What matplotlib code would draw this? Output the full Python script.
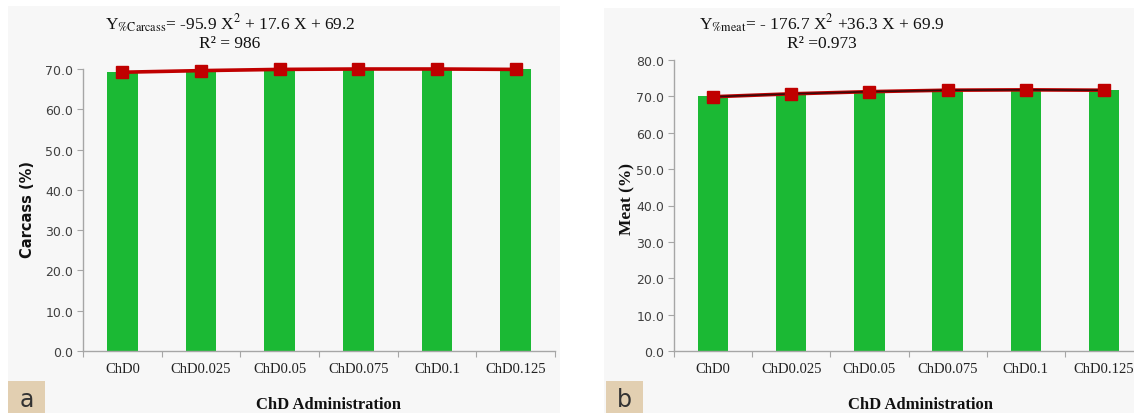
import matplotlib
matplotlib.use("Agg")
import matplotlib.pyplot as plt
from matplotlib.patches import Rectangle

categories = ["ChD0", "ChD0.025", "ChD0.05", "ChD0.075", "ChD0.1", "ChD0.125"]
carcass_bars = [69.2, 69.6, 69.9, 70.0, 70.0, 69.9]
carcass_points = [69.2, 69.6, 69.9, 70.0, 70.0, 69.9]
meat_bars = [70.0, 70.7, 71.3, 71.7, 71.8, 71.7]
meat_points = [69.9, 70.7, 71.3, 71.7, 71.8, 71.7]
carcass_yticks = [0, 10, 20, 30, 40, 50, 60, 70]
meat_yticks = [0, 10, 20, 30, 40, 50, 60, 70, 80]

plt.rcParams['mathtext.fontset'] = 'stix'
W, H = 1134, 414
fig = plt.figure(figsize=(W/100, H/100), dpi=100)
fig.patch.set_facecolor('white')

BG = '#f7f7f7'
GREEN = '#1bb934'
RED = '#c00000'
AX = '#a6a6a6'
serif = 'Liberation Serif'

# panel backgrounds
fig.add_artist(Rectangle((8/W, 0), (560-8)/W, (414-7)/H, transform=fig.transFigure,
                         facecolor=BG, edgecolor='none', zorder=0))
fig.add_artist(Rectangle((604/W, 0), (1134-604)/W, (414-9)/H, transform=fig.transFigure,
                         facecolor=BG, edgecolor='none', zorder=0))

def make_panel(rect, bars, pts, yticks, ymax, ylabel, ylabel_x, ylabel_y, ylabel_font, ylabel_size,
               eq1, eq2, eq_x, letter, letter_x, xlabel_x, dark_line):
    ax = fig.add_axes(rect)
    ax.set_facecolor('none')
    x = list(range(len(categories)))
    ax.bar(x, bars, width=0.39, color=GREEN, zorder=2)
    ax.plot(x, pts, color=RED, lw=2.6, zorder=3, clip_on=False)
    if dark_line:
        ax.plot(x, pts, color='#3a0a0a', lw=1.2, zorder=4, clip_on=False)
    ax.plot(x, pts, linestyle='none', marker='s', ms=8.5, color=RED, zorder=5, clip_on=False)
    ax.set_xlim(-0.5, 5.5)
    ax.set_ylim(0, ymax)
    for s in ['top', 'right']:
        ax.spines[s].set_visible(False)
    for s in ['left', 'bottom']:
        ax.spines[s].set_color(AX)
        ax.spines[s].set_linewidth(1.0)
    ax.set_yticks(yticks)
    ax.set_yticklabels([f"{v:.1f}" for v in yticks], fontsize=9, color='#404040',
                       family='DejaVu Sans')
    ax.tick_params(axis='y', length=4, color=AX, pad=3)
    ax.set_xticks([i - 0.5 for i in range(len(categories) + 1)])
    ax.set_xticklabels([])
    ax.tick_params(axis='x', which='major', length=4, color=AX)
    ax.set_xticks(x, minor=True)
    ax.set_xticklabels(categories, minor=True, fontsize=10.5, family=serif, color='#222222')
    ax.tick_params(axis='x', which='minor', length=0, pad=8)
    fig.text(ylabel_x/W, 1 - ylabel_y/H, ylabel, rotation=90, ha='center', va='center',
             fontsize=ylabel_size, fontweight='bold', family=ylabel_font, color='#111111')
    fig.text(xlabel_x/W, 1 - 405/H, "ChD Administration", ha='center', va='center',
             fontsize=12, fontweight='bold', family=serif, color='#111111')
    fig.text(eq_x/W, 1 - 24/H, eq1, ha='center', va='center', fontsize=12.5,
             family=serif, color='#111111')
    fig.text(eq_x/W, 1 - 44/H, eq2, ha='center', va='center', fontsize=12.5,
             family=serif, color='#111111')
    fig.add_artist(Rectangle((letter_x/W, 0), 37/W, 32/H, transform=fig.transFigure,
                             facecolor='#e2cfb1', edgecolor='none', zorder=1))
    fig.text((letter_x + 18.5)/W, 14/H, letter, ha='center', va='center', fontsize=17,
             family='DejaVu Sans', color='#333333')
    return ax

make_panel([83/W, 1 - 352/H, 472/W, 282/H], carcass_bars, carcass_points, carcass_yticks, 70,
           "Carcass (%)", 27, 210, 'DejaVu Sans', 10.5,
           r"Y$_{\%\mathrm{Carcass}}$= -95.9 X$^{2}$ + 17.6 X + 69.2", r"R² = 986", 230,
           "a", 8, 328, False)
make_panel([674/W, 1 - 352/H, 469/W, 291/H], meat_bars, meat_points, meat_yticks, 80,
           "Meat (%)", 627, 199, serif, 12.5,
           r"Y$_{\%\mathrm{meat}}$= - 176.7 X$^{2}$ +36.3 X + 69.9", r"R² =0.973", 822,
           "b", 606, 920, True)

fig.savefig("out.png", dpi=100, facecolor='white')
